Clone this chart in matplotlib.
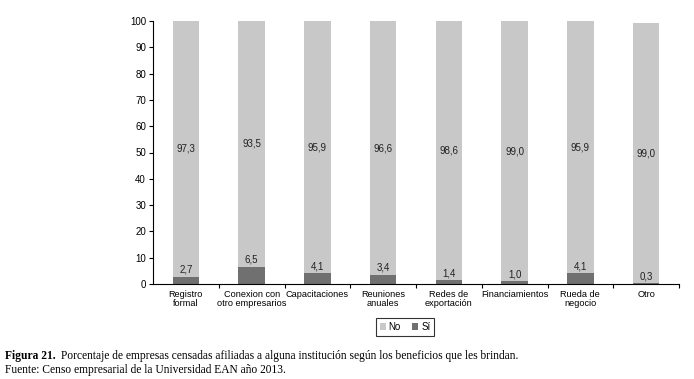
import numpy as np
import matplotlib.pyplot as plt
from matplotlib import font_manager as fm
from matplotlib.ticker import FixedLocator

categorias = ["Registro\nformal", "Conexion con\notro empresarios", "Capacitaciones",
              "Reuniones\nanuales", "Redes de\nexportación", "Financiamientos",
              "Rueda de\nnegocio", "Otro"]
si = [2.7, 6.5, 4.1, 3.4, 1.4, 1.0, 4.1, 0.3]
no = [97.3, 93.5, 95.9, 96.6, 98.6, 99.0, 95.9, 99.0]

# quitar la variante Narrow para que "Liberation Sans" sea la normal
fm.fontManager.ttflist = [f for f in fm.fontManager.ttflist
                          if not (f.name == "Liberation Sans" and "Narrow" in f.fname)]
fm.fontManager._findfont_cached.cache_clear()
plt.rcParams["font.family"] = ["Liberation Sans", "DejaVu Sans"]

fig = plt.figure(figsize=(6.94, 3.79), dpi=100)
ax = fig.add_axes([153 / 694, 1 - 284 / 379, 526 / 694, 263 / 379])

x = np.arange(len(categorias))
ancho = 0.4
ax.bar(x, si, ancho, color="#707070", label="Sí")
ax.bar(x, no, ancho, bottom=si, color="#c8c8c8", label="No")

for i in range(len(x)):
    ax.text(x[i], si[i] + no[i] / 2, f"{no[i]:.1f}".replace(".", ","),
            ha="center", va="center", fontsize=7, color="#222222")
    ax.annotate(f"{si[i]:.1f}".replace(".", ","), (x[i], si[i]), xytext=(0, 1.5),
                textcoords="offset points", ha="center", va="bottom",
                fontsize=7, color="#222222")

ax.set_xlim(-0.5, len(x) - 0.5)
ax.set_ylim(0, 100)
ax.set_yticks(range(0, 101, 10))
ax.tick_params(axis="y", labelsize=7, length=3, width=0.8, pad=2)
ax.set_xticks(x)
ax.set_xticklabels(categorias, fontsize=6.6, linespacing=1.1)
ax.tick_params(axis="x", which="major", length=0, pad=4)
ax.xaxis.set_minor_locator(FixedLocator(np.arange(-0.5, len(x), 1.0)[1:]))
ax.tick_params(axis="x", which="minor", length=3, width=0.8)
for s in ["top", "right"]:
    ax.spines[s].set_visible(False)
for s in ["left", "bottom"]:
    ax.spines[s].set_linewidth(0.8)

h, l = ax.get_legend_handles_labels()
leg = fig.legend(h[::-1], l[::-1], loc="center", bbox_to_anchor=(405 / 694, 1 - 327 / 379),
                 ncol=2, fontsize=7, frameon=True, fancybox=False, edgecolor="black",
                 handlelength=0.6, handleheight=0.6, handletextpad=0.3, columnspacing=1.2,
                 borderpad=0.4)
leg.get_frame().set_linewidth(0.8)

t1 = fig.text(5 / 694, 1 - 356 / 379, "Figura 21.", fontsize=8.3, fontweight="bold",
              family="Liberation Serif", va="center")
fig.canvas.draw()
bb = t1.get_window_extent()
fig.text((bb.x1 + 5) / 694, 1 - 356 / 379,
         "Porcentaje de empresas censadas afiliadas a alguna institución según los beneficios que les brindan.",
         fontsize=8.3, family="Liberation Serif", va="center")
fig.text(5 / 694, 1 - 370 / 379, "Fuente: Censo empresarial de la Universidad EAN año 2013.",
         fontsize=8.3, family="Liberation Serif", va="center")

fig.savefig("out.png", dpi=100)
